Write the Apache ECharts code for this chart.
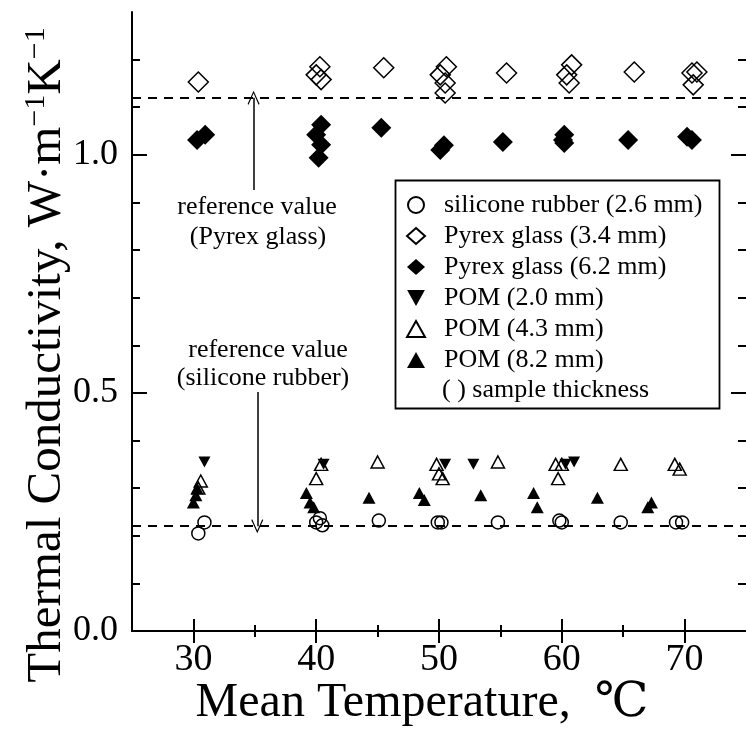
<!DOCTYPE html>
<html><head><meta charset="utf-8">
<script src="https://cdn.jsdelivr.net/npm/echarts@6/dist/echarts.min.js"></script>
<style>html,body{margin:0;padding:0;background:#fff}#c{width:746px;height:733px}</style>
</head><body><div id="c"></div>
<script>
// ---- data ----
const xTicks = [30, 40, 50, 60, 70];
const xMinorTicks = [35, 45, 55, 65];
const yTicks = [0, 0.5, 1.0];
const yMinorTicks = [0.1, 0.2, 0.3, 0.4, 0.6, 0.7, 0.8, 0.9, 1.1, 1.2];
const refPyrex = 1.12;
const refSilicone = 0.22;
const siliconeRubber = [[30.4,0.205],[30.9,0.228],[40.0,0.228],[40.3,0.237],[40.5,0.222],[45.1,0.232],[49.9,0.228],[50.2,0.228],[54.8,0.228],[59.8,0.232],[60.0,0.228],[64.8,0.228],[69.3,0.228],[69.8,0.228]];
const pyrex34 = [[30.4,1.153],[40.3,1.185],[40.0,1.168],[40.4,1.158],[45.5,1.183],[50.6,1.185],[50.1,1.168],[50.5,1.151],[50.5,1.130],[55.5,1.172],[60.8,1.189],[60.4,1.168],[60.6,1.151],[65.9,1.174],[70.6,1.172],[71.0,1.174],[70.7,1.147]];
const pyrex62 = [[30.3,1.031],[30.96,1.042],[40.4,1.063],[40.0,1.042],[40.4,1.021],[40.2,0.994],[45.3,1.057],[50.1,1.010],[50.4,1.020],[55.2,1.027],[60.2,1.042],[60.2,1.025],[60.1,1.031],[65.4,1.031],[70.2,1.038],[70.6,1.031]];
const pom20 = [[30.9,0.355],[40.6,0.35],[50.5,0.35],[52.8,0.35],[60.3,0.35],[61.0,0.355]];
const pom43 = [[30.6,0.315],[30.4,0.30],[40.0,0.32],[40.4,0.35],[45.0,0.355],[49.8,0.35],[50.0,0.33],[50.3,0.32],[54.8,0.355],[59.5,0.35],[59.7,0.32],[60.0,0.35],[64.8,0.35],[69.2,0.35],[69.6,0.34]];
const pom82 = [[30.0,0.27],[30.2,0.285],[30.3,0.30],[39.2,0.29],[39.5,0.27],[39.8,0.26],[44.3,0.28],[48.4,0.29],[48.8,0.275],[53.4,0.285],[57.7,0.29],[58.0,0.26],[62.9,0.28],[67.0,0.26],[67.3,0.27]];
const names = ['silicone rubber (2.6 mm)','Pyrex glass (3.4 mm)','Pyrex glass (6.2 mm)','POM (2.0 mm)','POM (4.3 mm)','POM (8.2 mm)'];

// ---- chart ----
const FONT = '"Liberation Serif","DejaVu Serif",serif';
const downTri = 'path://M0,0 L10,0 L5,9 Z';
const chevron = 'path://M0,0 L6,12 L5,12.6 L0,2.4 L-5,12.6 L-6,12 Z';
const open = {color:'rgba(0,0,0,0)', borderColor:'#000', borderWidth:1.5, opacity:1};
const filled = {color:'#000', opacity:1};
const chart = echarts.init(document.getElementById('c'));
const tickAxis = (extra) => Object.assign({
  type:'value', min:25, max:75, axisLine:{show:false}, splitLine:{show:false},
  axisLabel:{show:false}
}, extra);
const yTickAxis = (extra) => Object.assign({
  type:'value', min:0, max:1.3, axisLine:{show:false}, splitLine:{show:false},
  axisLabel:{show:false}
}, extra);
chart.setOption({
  animation:false,
  grid:{left:132, top:12, width:619, height:619},
  xAxis:[
    tickAxis({position:'bottom', axisLine:{show:true, lineStyle:{color:'#000', width:2}},
      axisTick:{inside:true, length:12, lineStyle:{color:'#000', width:2}, customValues:xTicks},
      axisLabel:{show:true, customValues:xTicks, color:'#000', fontFamily:FONT, fontSize:38, margin:10}}),
    tickAxis({position:'bottom', axisTick:{inside:true, length:6, lineStyle:{color:'#000', width:2}, customValues:xMinorTicks}}),
    tickAxis({position:'top', axisLine:{show:true, lineStyle:{color:'#000', width:2}},
      axisTick:{inside:true, length:12, lineStyle:{color:'#000', width:2}, customValues:xTicks}}),
    tickAxis({position:'top', axisTick:{inside:true, length:6, lineStyle:{color:'#000', width:2}, customValues:xMinorTicks}})
  ],
  yAxis:[
    yTickAxis({position:'left', axisLine:{show:true, lineStyle:{color:'#000', width:2}},
      axisTick:{inside:true, length:15, lineStyle:{color:'#000', width:2}, customValues:yTicks},
      axisLabel:{show:true, customValues:yTicks, color:'#000', fontFamily:FONT, fontSize:36, margin:14,
        formatter:v=>v.toFixed(1)}}),
    yTickAxis({position:'left', axisTick:{inside:true, length:8, lineStyle:{color:'#000', width:2}, customValues:yMinorTicks}}),
    yTickAxis({position:'right', axisTick:{inside:true, length:15, lineStyle:{color:'#000', width:2}, customValues:yTicks}}),
    yTickAxis({position:'right', axisTick:{inside:true, length:8, lineStyle:{color:'#000', width:2}, customValues:yMinorTicks}})
  ],
  legend:{
    orient:'vertical', left:401, top:187, itemGap:5, itemWidth:18, itemHeight:16,
    textStyle:{fontFamily:FONT, fontSize:26, color:'#000', lineHeight:25, padding:[0,0,0,14]}, data:names
  },
  series:[
    {name:names[0], type:'scatter', symbol:'circle', symbolSize:13, itemStyle:open, data:siliconeRubber,
      markLine:{silent:true, symbol:'none', label:{show:false},
        lineStyle:{color:'#000', width:1.8, type:[9,7]},
        data:[{yAxis:refPyrex},{yAxis:refSilicone}]}},
    {name:names[1], type:'scatter', symbol:'diamond', symbolSize:20, itemStyle:open, data:pyrex34,
      markLine:{silent:true, symbol:['none', chevron], symbolSize:[12,14], label:{show:false},
        lineStyle:{color:'#000', width:1.5, type:'solid'},
        data:[[{coord:[34.9,0.926]},{coord:[34.9,refPyrex]}],[{coord:[35.2,0.502]},{coord:[35.2,refSilicone]}]]}},
    {name:names[2], type:'scatter', symbol:'diamond', symbolSize:20, itemStyle:filled, data:pyrex62},
    {name:names[3], type:'scatter', symbol:downTri, symbolSize:[12,11], itemStyle:filled, data:pom20},
    {name:names[4], type:'scatter', symbol:'triangle', symbolSize:[13,12], itemStyle:open, data:pom43},
    {name:names[5], type:'scatter', symbol:'triangle', symbolSize:[13,12], itemStyle:filled, data:pom82}
  ],
  graphic:[
    {type:'rect', left:393, top:178, shape:{width:324, height:228}, style:{fill:null, stroke:'#000', lineWidth:1.8}, z:-1},
    {type:'text', x:442, y:390, style:{text:'( ) sample thickness', font:'26px '+FONT, fill:'#000', verticalAlign:'middle'}},
    {type:'text', x:257, y:207, style:{text:'reference value', font:'26px '+FONT, fill:'#000', align:'center', verticalAlign:'middle'}},
    {type:'text', x:258, y:237, style:{text:'(Pyrex glass)', font:'26px '+FONT, fill:'#000', align:'center', verticalAlign:'middle'}},
    {type:'text', x:268, y:350, style:{text:'reference value', font:'26px '+FONT, fill:'#000', align:'center', verticalAlign:'middle'}},
    {type:'text', x:263, y:378, style:{text:'(silicone rubber)', font:'26px '+FONT, fill:'#000', align:'center', verticalAlign:'middle'}},
    {type:'text', x:422, y:703, style:{text:'Mean Temperature,  ℃', font:'48px '+FONT, fill:'#000', align:'center', verticalAlign:'middle'}},
    {type:'text', x:47, y:355, rotation:Math.PI/2, style:{
      text:'Thermal Conductivity, W·m{s|−1}K{s|−1}', font:'49px '+FONT, fill:'#000', align:'center', verticalAlign:'middle',
      rich:{s:{fontSize:30, fontFamily:FONT, verticalAlign:'top', padding:[0,0,22,0]}}}}
  ]
});
</script></body></html>
